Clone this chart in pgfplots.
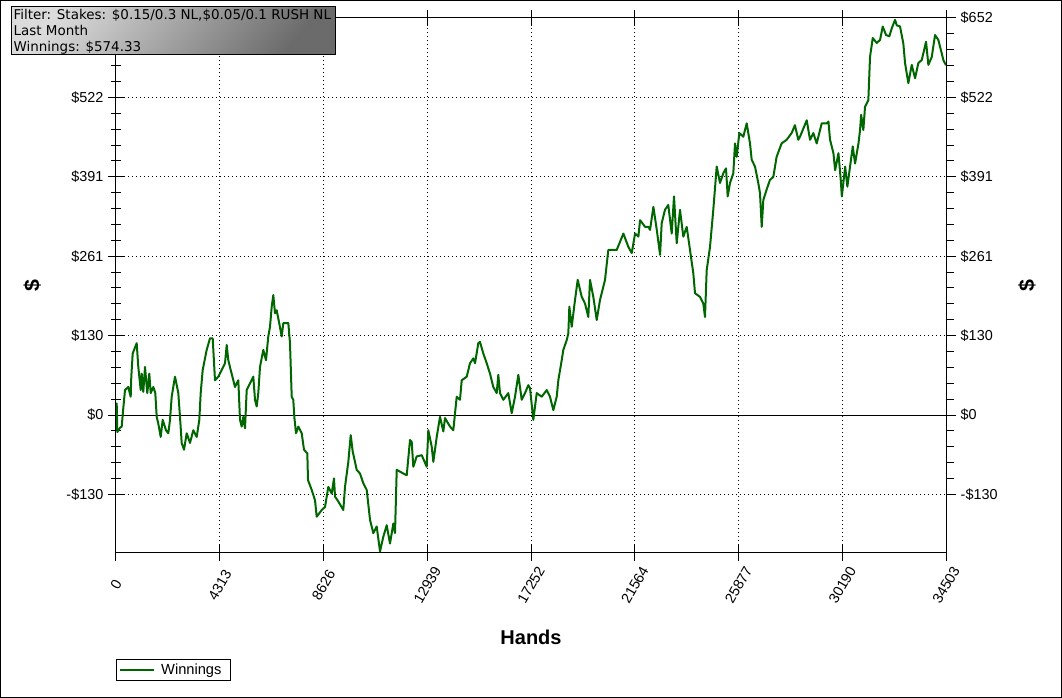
\documentclass[border=0pt]{standalone}
\usepackage{fontspec}
\setmainfont{Liberation Sans}
\newfontfamily\verdana{DejaVu Sans}
\usepackage{pgfplots}
\pgfplotsset{compat=1.18}
\definecolor{wingreen}{RGB}{0,102,0}

\begin{document}
\begin{tikzpicture}
\begin{axis}[
    width=622.5pt, height=401.25pt, scale only axis,
    xmin=0, xmax=34503, ymin=-226.6, ymax=652,
    scaled x ticks=false, scaled y ticks=false,
    xtick={0,4313,8626,12939,17252,21564,25877,30190,34503},
    xticklabels={0,4313,8626,12939,17252,21564,25877,30190,34503},
    ytick={-130.4,0,130.4,260.8,391.2,521.6,652},
    yticklabels={-\$130,\$0,\$130,\$261,\$391,\$522,\$652},
    minor x tick num=4, minor y tick num=4,
    xtick pos=both, ytick pos=left,
    tick align=center,
    major tick length=12pt, minor tick length=7pt,
    tick style={black, line width=0.75pt},
    grid=major,
    major grid style={black, line width=0.75pt, dash pattern=on 0.75pt off 2.25pt},
    axis line style={black, line width=0.75pt},
    tick label style={font=\fontsize{10.8}{12}\selectfont},
    xticklabel style={rotate=60, anchor=center},
    xticklabel shift=18pt,
    xlabel={Hands},
    every axis x label/.style={at={(axis description cs:0.5,-0.157)}, anchor=center,
        font=\bfseries\fontsize{15}{18}\selectfont},
    ylabel={\$},
    every axis y label/.style={at={(axis description cs:-0.101,0.5)}, anchor=center, rotate=90,
        font=\bfseries\fontsize{16}{18}\selectfont},
    legend style={at={(axis description cs:0,-0.198)}, anchor=north west,
        draw=black, line width=0.75pt, font=\fontsize{11}{12}\selectfont,
        inner xsep=2pt, inner ysep=1pt, nodes={inner xsep=4.5pt}},
    legend cell align=left,
    legend image code/.code={\draw[#1] (0pt,0pt) -- (25.5pt,0pt);},
]
\draw[black, line width=0.75pt] (axis cs:0,0) -- (axis cs:34503,0);
\addplot[wingreen, line width=1.5pt, line join=round] coordinates {
(0,0) (29,19) (54,-28) (166,-21) (237,-19) (303,11) (374,41) (511,46)
(611,30) (636,63) (694,101) (831,115) (860,118) (927,79) (1027,41) (1068,68)
(1135,38) (1206,79) (1301,36) (1384,68) (1443,36) (1551,46) (1634,36) (1692,-3)
(1758,-14) (1858,-36) (1941,-8) (2079,-25) (2174,-30) (2245,-8) (2315,30) (2453,63)
(2590,36) (2660,-3) (2731,-46) (2827,-57) (2939,-30) (3076,-46) (3213,-25) (3355,-36)
(3463,-8) (3521,36) (3604,74) (3770,107) (3908,126) (4020,126) (4115,57) (4253,63)
(4394,74) (4531,85) (4602,115) (4668,90) (4768,74) (4947,46) (5084,57) (5155,-8)
(5225,-19) (5292,-3) (5363,-22) (5433,41) (5570,52) (5708,63) (5778,25) (5849,14)
(5915,36) (5986,79) (6123,107) (6235,90) (6331,129) (6402,145) (6473,178) (6539,197)
(6610,167) (6680,172) (6784,151) (6888,129) (6955,151) (7163,151) (7233,118) (7304,30)
(7370,25) (7412,-3) (7483,-30) (7578,-19) (7720,-30) (7815,-57) (7953,-63) (7982,-107)
(8135,-123) (8273,-140) (8343,-167) (8551,-156) (8688,-151) (8826,-118) (8967,-129) (9062,-104)
(9104,-134) (9242,-142) (9449,-156) (9520,-118) (9657,-77) (9757,-33) (9840,-60) (9935,-77)
(10005,-90) (10143,-96) (10280,-112) (10422,-123) (10559,-172) (10696,-194) (10837,-183) (10975,-224)
(11112,-200) (11253,-181) (11390,-211) (11528,-178) (11598,-194) (11669,-90) (11943,-96) (12085,-99)
(12222,-41) (12292,-44) (12359,-85) (12500,-68) (12708,-66) (12916,-85) (12982,-25) (13124,-52)
(13191,-77) (13332,-36) (13469,-3) (13607,-27) (13677,-5) (13885,-19) (14022,-25) (14163,30)
(14300,25) (14371,57) (14579,63) (14716,85) (14853,93) (14924,85) (15061,118) (15131,120)
(15269,101) (15410,85) (15547,68) (15684,46) (15826,36) (15892,66) (15963,36) (16100,25)
(16308,36) (16449,3) (16586,30) (16724,66) (16865,25) (17002,36) (17140,49) (17210,44)
(17348,-8) (17489,36) (17697,30) (17905,41) (18042,30) (18179,8) (18320,30) (18387,57)
(18528,90) (18595,107) (18736,123) (18803,134) (18845,178) (18944,145) (19081,189) (19193,222)
(19360,194) (19497,183) (19634,161) (19704,222) (19842,194) (19983,156) (20120,189) (20328,222)
(20465,271) (20814,271) (21091,298) (21299,276) (21440,266) (21577,298) (21715,293) (21785,320)
(21993,309) (22131,309) (22201,304) (22338,342) (22480,304) (22617,263) (22684,315) (22821,337)
(22958,345) (23100,298) (23196,359) (23308,282) (23445,337) (23583,293) (23724,309) (23861,271)
(23998,233) (24069,200) (24277,194) (24414,183) (24484,161) (24555,238) (24692,276) (24829,337)
(24971,408) (25108,381) (25245,397) (25357,405) (25428,359) (25524,381) (25661,397) (25732,446)
(25802,424) (25911,463) (26077,457) (26218,479) (26355,446) (26426,419) (26563,408) (26700,381)
(26771,364) (26842,309) (26908,353) (27045,370) (27183,386) (27324,391) (27461,424) (27669,446)
(27877,452) (28085,463) (28222,476) (28363,452) (28433,457) (28713,484) (28850,452) (28987,463)
(29128,446) (29337,479) (29545,479) (29615,482) (29682,452) (29823,430) (29894,402) (30032,430)
(30127,386) (30173,359) (30310,408) (30402,375) (30514,408) (30626,441) (30722,413) (30864,446)
(30930,468) (30975,493) (31066,468) (31136,506) (31274,517) (31344,588) (31457,619) (31624,611)
(31761,616) (31873,638) (32010,624) (32147,622) (32247,635) (32384,649) (32455,640) (32592,638)
(32729,610) (32800,578) (32937,545) (33079,575) (33216,553) (33353,578) (33495,583) (33561,594)
(33673,613) (33769,575) (33910,588) (34047,624) (34184,616) (34325,594) (34392,583) (34503,574.33)
};
\legend{Winnings\hspace{5pt}}
\end{axis}
\begin{axis}[
    width=622.5pt, height=401.25pt, scale only axis,
    xmin=0, xmax=34503, ymin=-226.6, ymax=652,
    axis x line=none, axis y line*=right,
    ytick={-130.4,0,130.4,260.8,391.2,521.6,652},
    yticklabels={-\$130,\$0,\$130,\$261,\$391,\$522,\$652},
    minor y tick num=4,
    tick align=outside,
    major tick length=7.5pt, minor tick length=6pt,
    tick style={black, line width=0.75pt},
    axis line style={black, line width=0.75pt},
    tick label style={font=\fontsize{10.8}{12}\selectfont},
    ylabel={\$},
    every axis y label/.style={at={(axis description cs:1.0976,0.5)}, anchor=center, rotate=90,
        font=\bfseries\fontsize{16}{18}\selectfont},
]
\end{axis}
% filter box
\draw[black, line width=0.75pt, top color=black!14, bottom color=black!58, shading angle=50]
    (-78pt,409.5pt) rectangle (164.25pt,373.5pt);
\node[anchor=north west, align=left, inner sep=0pt,
      font=\verdana\fontsize{10.1}{12}\selectfont] at (-77pt,408.3pt)
    {Filter: Stakes: \$0.15/0.3 NL,\$0.05/0.1 RUSH NL\\Last Month\\Winnings: \$574.33};
% outer frame
\draw[black, line width=1pt] (-86.5pt,-108.25pt) rectangle (709pt,414.25pt);
\pgfresetboundingbox
\path (-87pt,-108.75pt) rectangle (709.5pt,414.75pt);
\end{tikzpicture}
\end{document}
